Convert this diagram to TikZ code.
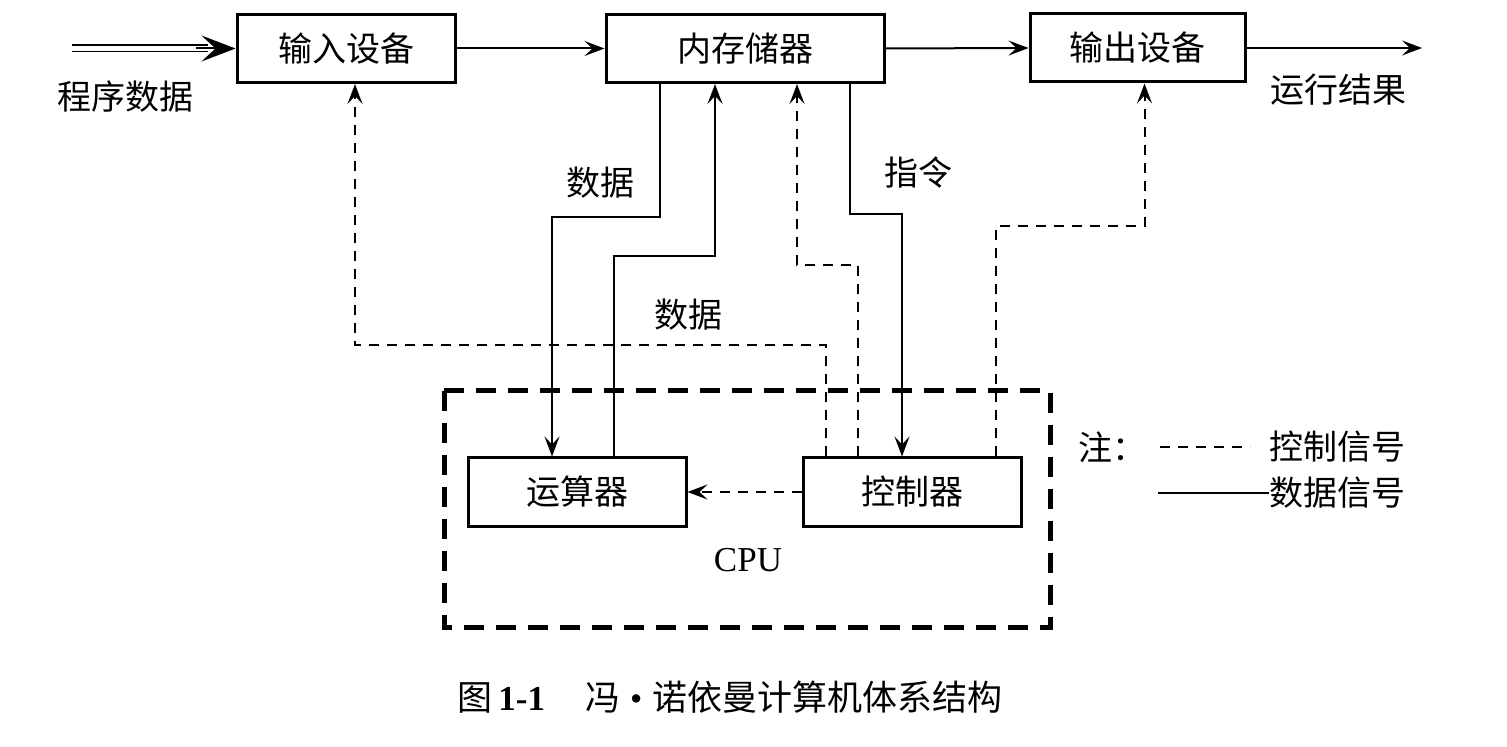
\documentclass[tikz,border=0pt]{standalone}
\usepackage{fontspec}
\setmainfont{Liberation Serif}
\newfontfamily\cjk{Noto Sans CJK SC}
\usetikzlibrary{calc}
\usetikzlibrary{arrows.meta}

\begin{document}
\begin{tikzpicture}[x=0.5pt,y=-0.5pt]
        \tikzstyle{unit} = [draw, line width=1.5pt, minimum height=34pt, inner sep=0pt, font=\cjk\fontsize{17pt}{20pt}\selectfont]
        \tikzstyle{txt} = [inner sep=0pt, font=\cjk\fontsize{17pt}{20pt}\selectfont]
        \tikzstyle{dataline} = [line width=1pt, -{Stealth[length=10pt,width=7.5pt,inset=4pt]}]
        \tikzstyle{ctrlline} = [line width=1pt, dash pattern=on 5pt off 4pt, -{Stealth[length=10pt,width=7.5pt,inset=4pt]}]
        \useasboundingbox (0,0) rectangle (1507,747);

        % units
        \node[unit, minimum width=109pt] (in) at (346,48.5) {输入设备};
        \node[unit, minimum width=139pt] (mem) at (745,48.5) {内存储器};
        \node[unit, minimum width=107.5pt] (out) at (1137.5,48) {输出设备};
        \node[unit, minimum width=109pt] (alu) at (577,492) {运算器};
        \node[unit, minimum width=109pt] (cu) at (912,492) {控制器};
        \draw[line width=2.5pt, dash pattern=on 10pt off 6pt] (444,391) rectangle (1050,627);
        \node[inner sep=0pt, font=\fontsize{17.5pt}{20pt}\selectfont] (cpu) at (748,560) {CPU};

        % outside
        \coordinate (src) at (72,48.5);
        \coordinate (res) at (1422,48);
        \draw[line width=0.9pt, double, double distance=2.2pt, shorten >=14pt] (src) -- (in.west);
        \draw[line width=1pt, -{Stealth[length=17pt,width=13pt,inset=7pt]}] ($(in.west) + (-40,0)$) -- (in.west);
        \node[txt] (prog) at (125,97) {程序数据};
        \node[txt] (result) at (1338,90) {运行结果};
        \draw[dataline] (in.east) -- (mem.west);
        \draw[dataline] (mem.east) -- (out.west);
        \draw[dataline] (out.east) -- (res);

        % data paths
        \draw[dataline] ($(mem.south) + (-85,0)$) -- ++(0,133) -| ($(alu.north) + (-25,0)$);
        \draw[dataline] ($(alu.north) + (37,0)$) -- ++(0,-200) -| ($(mem.south) + (-30,0)$);
        \draw[dataline] ($(mem.south) + (105,0)$) -- ++(0,130) -| ($(cu.north) + (-10,0)$);
        \node[txt] (d1) at (600,183) {数据};
        \node[txt] (d2) at (688,315) {数据};
        \node[txt] (ins) at (918,173) {指令};

        % control paths
        \draw[ctrlline] ($(cu.north) + (-54,0)$) -- ++(0,-191) -| ($(mem.south) + (52,0)$);
        \draw[ctrlline] ($(cu.north) + (-86,0)$) -- ++(0,-111) -| ($(in.south) + (9,0)$);
        \draw[ctrlline] ($(cu.north) + (84,0)$) -- ++(0,-230) -| ($(out.south) + (7,0)$);
        \draw[ctrlline] (cu.west) -- (alu.east);

        % legend
        \node[txt] (note) at (1112,447) {注：};
        \node[txt] (ctrl) at (1337,447) {控制信号};
        \node[txt] (data) at (1337,493) {数据信号};
        \coordinate (c1) at (1160,447);
        \coordinate (c2) at (1250,447);
        \coordinate (d3) at (1158,493);
        \draw[line width=1pt, dash pattern=on 5pt off 4pt] (c1) -- (c2);
        \draw[line width=1.2pt] (d3) -- (data.west);

        % caption
        \node[inner sep=0pt, font=\fontsize{17.5pt}{20pt}\selectfont] (cap) at (730,697) {{\cjk 图}\,\textbf{1-1}\hspace{20pt}{\cjk 冯}\hspace{5pt}\textbullet\hspace{5pt}{\cjk 诺依曼计算机体系结构}};
\end{tikzpicture}
\end{document}
